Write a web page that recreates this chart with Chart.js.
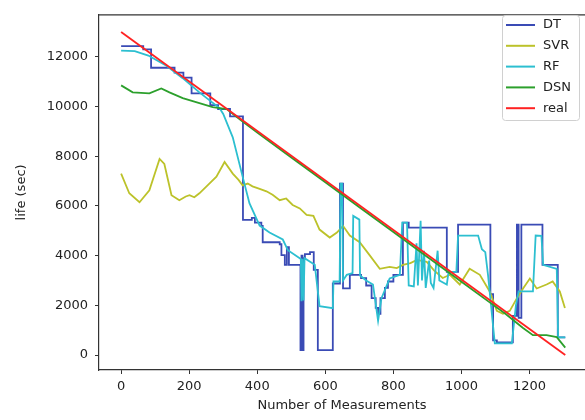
<!DOCTYPE html>
<html>
<head>
<meta charset="utf-8">
<script src="https://cdn.jsdelivr.net/npm/chart.js@4"></script>
<style>
  html, body { margin: 0; padding: 0; background: #fff; }
  #wrap { width: 585px; height: 420px; }
</style>
</head>
<body>
<div id="wrap"><canvas id="chart" width="585" height="420"></canvas></div>
<script>
// eixos
const xTicks = [0, 200, 400, 600, 800, 1000, 1200];
const yTicks = [0, 2000, 4000, 6000, 8000, 10000, 12000];

// real
const realX = [0, 1305];
const realY = [13000, 0];

// DT (degraus)
const dtX = [0, 65, 88, 157, 183, 207, 262, 285, 320, 358, 384, 393, 412, 416, 466, 471, 481, 487, 493, 527, 530, 533, 536, 540, 555, 566, 578, 622, 643, 652, 672, 705, 720, 736, 748, 755, 762, 775, 784, 800, 828, 845, 957, 990, 1085, 1093, 1104, 1151, 1163, 1168, 1176, 1238, 1283, 1305];
const dtY = [12430, 12300, 11560, 11360, 11160, 10530, 10060, 9900, 9600, 5440, 5520, 5330, 5200, 4540, 4460, 4020, 3630, 4340, 3630, 200, 4000, 200, 3900, 4060, 4140, 3430, 200, 2880, 6900, 2680, 3230, 3100, 2800, 2290, 1900, 1660, 2290, 2700, 2960, 3230, 5330, 5130, 3350, 5250, 2450, 590, 510, 1580, 5250, 1500, 5250, 3630, 710, 710];

// SVR
const svrX = [0, 24, 54, 83, 113, 127, 148, 171, 190, 201, 215, 230, 251, 280, 304, 328, 345, 357, 372, 386, 405, 427, 445, 466, 485, 504, 525, 545, 565, 583, 613, 634, 652, 672, 701, 730, 760, 789, 810, 828, 850, 869, 898, 920, 945, 966, 995, 1024, 1054, 1083, 1104, 1122, 1142, 1163, 1181, 1201, 1221, 1250, 1268, 1289, 1304];
const svrY = [7300, 6510, 6150, 6630, 7890, 7690, 6430, 6230, 6380, 6430, 6350, 6510, 6790, 7180, 7770, 7300, 7050, 6830, 6900, 6790, 6700, 6590, 6450, 6230, 6300, 6040, 5900, 5640, 5600, 5050, 4730, 4930, 5200, 4810, 4540, 4020, 3470, 3550, 3500, 3630, 3700, 3830, 3750, 3400, 3100, 3230, 2840, 3470, 3230, 2560, 1780, 1660, 1780, 2290, 2680, 3080, 2680, 2840, 2960, 2560, 1890];

// RF
const rfX = [0, 40, 80, 133, 180, 230, 289, 300, 328, 357, 377, 407, 436, 475, 490, 528, 530, 533, 536, 539, 569, 583, 622, 624, 642, 645, 649, 652, 663, 680, 682, 700, 702, 720, 740, 755, 765, 789, 819, 826, 840, 845, 860, 868, 872, 880, 884, 890, 895, 905, 910, 918, 930, 935, 957, 962, 985, 990, 1049, 1060, 1070, 1078, 1098, 1148, 1160, 1168, 1210, 1218, 1235, 1240, 1280, 1284, 1305];
const rfY = [12250, 12230, 12050, 11640, 11150, 10570, 9940, 9700, 8760, 7180, 6110, 5210, 4930, 4650, 4220, 3870, 2170, 3870, 2200, 3900, 3630, 1970, 1890, 2960, 2960, 6900, 6900, 3000, 3230, 3300, 5600, 5450, 3200, 3000, 2840, 1380, 2290, 3080, 3230, 5330, 5330, 2800, 2760, 4500, 2800, 5400, 3000, 4200, 2700, 3800, 2900, 2700, 4200, 3000, 2840, 3350, 3350, 4810, 4810, 4260, 4140, 3230, 470, 470, 2000, 2560, 2560, 4810, 4800, 3630, 3470, 710, 710];

// DSN
const dsnX = [0, 34, 83, 118, 142, 181, 230, 269, 310, 357, 400, 500, 600, 700, 800, 900, 1000, 1080, 1130, 1180, 1210, 1250, 1280, 1305];
const dsnY = [10850, 10570, 10530, 10730, 10570, 10340, 10140, 9980, 9900, 9400, 8950, 7950, 6950, 5950, 4950, 3950, 2950, 2150, 1650, 1100, 800, 800, 720, 300];

const pts = (xs, ys) => xs.map((x, i) => ({ x: x, y: ys[i] }));

const serie = (label, cor, xs, ys, ordem, extra) => Object.assign({
    label: label,
    borderColor: cor,
    backgroundColor: cor,
    data: pts(xs, ys),
    borderWidth: 1.8,
    pointRadius: 0,
    tension: 0,
    fill: false,
    order: ordem
}, extra || {});

// legenda dentro da area
const legendaPlugin = {
    id: 'legenda',
    afterDraw(chart) {
        const ctx = chart.ctx;
        const x0 = 502, y0 = 15, w = 77, h = 105;
        ctx.save();
        ctx.fillStyle = 'rgba(255,255,255,0.85)';
        ctx.strokeStyle = '#d0d0d0';
        ctx.lineWidth = 1;
        ctx.beginPath();
        ctx.roundRect(x0 + 0.5, y0 + 0.5, w, h, 3);
        ctx.fill();
        ctx.stroke();
        ctx.font = '13px "DejaVu Sans"';
        ctx.textBaseline = 'middle';
        chart.data.datasets.forEach((ds, i) => {
            const y = y0 + 10 + i * 20.8;
            ctx.strokeStyle = ds.borderColor;
            ctx.lineWidth = 2;
            ctx.beginPath();
            ctx.moveTo(x0 + 4, y);
            ctx.lineTo(x0 + 33, y);
            ctx.stroke();
            ctx.fillStyle = '#222';
            ctx.fillText(ds.label, x0 + 41, y);
        });
        ctx.restore();
    }
};

// moldura superior
const molduraPlugin = {
    id: 'moldura',
    afterDatasetsDraw(chart) {
        const a = chart.chartArea;
        const ctx = chart.ctx;
        ctx.save();
        ctx.strokeStyle = '#333';
        ctx.lineWidth = 1.2;
        ctx.beginPath();
        ctx.moveTo(a.left, a.top);
        ctx.lineTo(a.right + 2, a.top);
        ctx.stroke();
        ctx.restore();
    }
};

Chart.defaults.font.family = '"DejaVu Sans"';
Chart.defaults.font.size = 13;
Chart.defaults.color = '#222';

new Chart(document.getElementById('chart').getContext('2d'), {
    type: 'line',
    data: {
        datasets: [
            serie('DT', '#3a4bb5', dtX, dtY, 5, { stepped: true }),
            serie('SVR', '#bcc22a', svrX, svrY, 4),
            serie('RF', '#2cbfd0', rfX, rfY, 3),
            serie('DSN', '#2ca02c', dsnX, dsnY, 2),
            serie('real', '#ff2222', realX, realY, 1)
        ]
    },
    options: {
        responsive: false,
        animation: false,
        layout: { padding: { top: 8, right: 0, left: 0, bottom: 0 } },
        plugins: {
            legend: { display: false },
            tooltip: { enabled: false }
        },
        scales: {
            x: {
                type: 'linear',
                min: -65,
                max: 1363,
                afterFit: s => { s.height = 50; },
                afterBuildTicks: s => { s.ticks = xTicks.map(v => ({ value: v })); },
                grid: { drawOnChartArea: false, tickLength: 4, color: '#333' },
                border: { color: '#333', width: 1.2 },
                ticks: { padding: 5, maxRotation: 0, callback: v => String(v) },
                title: { display: true, text: 'Number of Measurements', padding: { top: 0, bottom: 7 } }
            },
            y: {
                min: -600,
                max: 13690,
                afterFit: s => { s.width = 99; },
                afterBuildTicks: s => { s.ticks = yTicks.map(v => ({ value: v })); },
                grid: { drawOnChartArea: false, tickLength: 4, color: '#333' },
                border: { color: '#333', width: 1.2 },
                ticks: { padding: 7, callback: v => String(v) },
                title: { display: true, text: 'life (sec)', padding: { top: 14, bottom: 0 } }
            }
        }
    },
    plugins: [legendaPlugin, molduraPlugin]
});
</script>
</body>
</html>
